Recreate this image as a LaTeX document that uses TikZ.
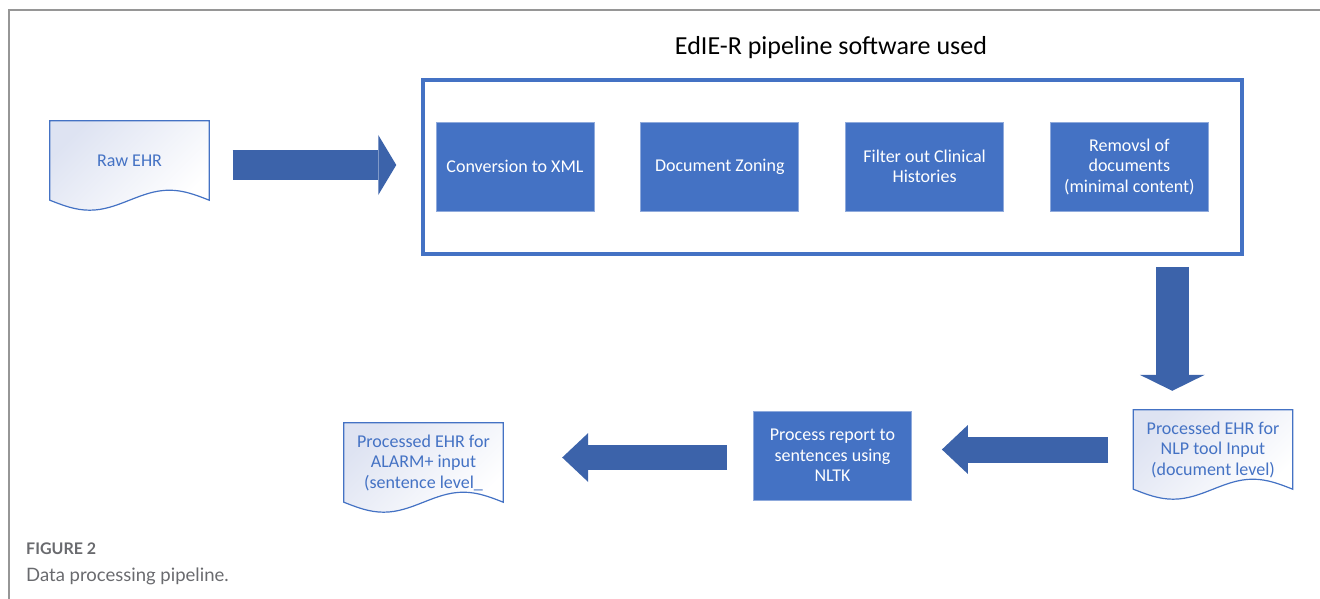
\documentclass[tikz,border=0pt]{standalone}
\usepackage{fontspec}
\setmainfont{Carlito}
\newfontfamily\capfont{Lato}
\usepackage{xcolor}
\usetikzlibrary{positioning,arrows.meta,calc,backgrounds}

\definecolor{boxblue}{RGB}{68,114,196}
\definecolor{arrowblue}{RGB}{60,99,170}
\definecolor{docshade}{RGB}{222,227,242}
\definecolor{framegray}{RGB}{150,150,150}
\definecolor{capgray}{RGB}{105,106,110}

% document outline with wavy bottom, drawn round a text node
\newcommand{\docoutline}[1]{%
  \path[docline] (#1.south west) -- (#1.north west) -- (#1.north east) -- (#1.south east)
    sin ($(#1.south west)!0.75!(#1.south east)+(0,10pt)$)
    cos ($(#1.south west)!0.5!(#1.south east)$)
    sin ($(#1.south west)!0.25!(#1.south east)+(0,-10pt)$)
    cos (#1.south west) -- cycle;}

\begin{document}
\begin{tikzpicture}[x=1pt, y=-1pt,
  stepbox/.style={draw=boxblue!60!white, line width=0.8pt, fill=boxblue, text=white, align=center, minimum width=158pt, minimum height=89pt, font=\fontsize{18}{20.5}\selectfont, inner sep=2pt},
  docnode/.style={align=center, text=boxblue, minimum width=159pt, minimum height=79pt, font=\fontsize{18}{20.5}\selectfont, inner sep=2pt},
  docline/.style={draw=boxblue, line width=1.2pt, top color=docshade, bottom color=white, shading angle=45},
  fatarrow/.style n args={3}{draw=arrowblue, line width=#1, -{Triangle[width=#2, length=#3, line width=0pt]}}
]
\useasboundingbox (0,0) rectangle (1320,599);
\draw[framegray, line width=1.3pt] (1320,10) -- (9,10) -- (9,599);

\node[docnode] (rawehr) at (129.5,160.5) {Raw EHR};

\node[draw=boxblue, line width=3.5pt, minimum width=819pt, minimum height=174pt] (pipe) at (832.5,167) {};
\node[font=\fontsize{26}{30}\selectfont] (title) at (831,48) {EdIE-R pipeline software used};

\node[stepbox] (s1) at (515,166.5) {Conversion to XML};
\node[stepbox, right=46pt of s1] (s2) {Document Zoning};
\node[stepbox, right=46pt of s2] (s3) {Filter out Clinical\\Histories};
\node[stepbox, right=46pt of s3] (s4) {Removsl of\\documents\\(minimal content)};

\node[docnode] (nlpdoc) at (1213,449.5) {Processed EHR for\\NLP tool Input\\(document level)};
\node[stepbox] (nltk) at (832.5,455.5) {Process report to\\sentences using\\NLTK};
\node[docnode] (alarmdoc) at (423.5,462.5) {Processed EHR for\\ALARM+ input\\(sentence level\_};

\begin{scope}[on background layer]
\docoutline{rawehr}
\docoutline{nlpdoc}
\docoutline{alarmdoc}
\end{scope}

\draw[fatarrow={30pt}{60pt}{18pt}, shorten <=23.5pt, shorten >=25pt] ([yshift=-4.5pt]rawehr.east) -- ([yshift=-4.5pt]rawehr.east -| pipe.west);
\draw[fatarrow={33pt}{65pt}{16pt}, shorten <=11pt, shorten >=19pt] ([xshift=-71.5pt]pipe.south east) -- ([xshift=-71.5pt]pipe.south east |- nlpdoc.north);
\draw[fatarrow={26pt}{49pt}{26pt}, shorten <=25pt, shorten >=30pt] (nlpdoc.west) -- (nlpdoc.west -| nltk.east);
\draw[fatarrow={25pt}{49pt}{26pt}, shorten <=26pt, shorten >=59pt] ([yshift=-2pt]nltk.west) -- ([yshift=-2pt]nltk.west -| alarmdoc.east);

\node[anchor=base west, inner sep=0pt, text=capgray, font=\capfont\bfseries\fontsize{16}{18}\selectfont] (figlabel) at (26,554) {FIGURE 2};
\node[anchor=base west, inner sep=0pt, text=capgray, font=\capfont\fontsize{18.5}{21}\selectfont] (figcaption) at (26,581) {Data processing pipeline.};
\end{tikzpicture}
\end{document}
